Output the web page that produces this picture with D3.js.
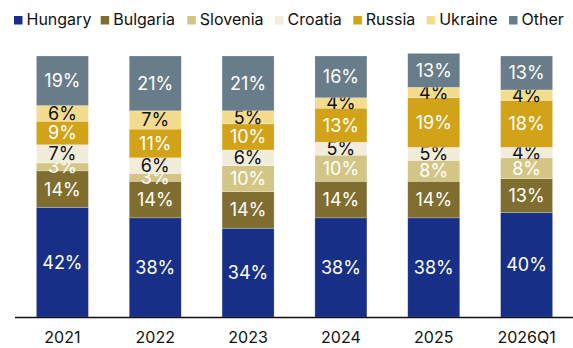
<!DOCTYPE html>
<html>
<head>
<meta charset="utf-8">
<script src="https://cdn.jsdelivr.net/npm/d3@7"></script>
<style>
  html, body { margin: 0; padding: 0; background: #fff; }
  svg { display: block; font-family: Inter, "Noto Sans", sans-serif; }
</style>
</head>
<body>
<svg id="chart" width="573" height="348"></svg>
<script>
// Periods along the x axis
const periods = ["2021", "2022", "2023", "2024", "2025", "2026Q1"];

// Share of each origin, in percent, stacked bottom to top
const hungary  = [42, 38, 34, 38, 38, 40];
const bulgaria = [14, 14, 14, 14, 14, 13];
const slovenia = [3, 3, 10, 10, 8, 8];
const croatia  = [7, 6, 6, 5, 5, 4];
const russia   = [9, 11, 10, 13, 19, 18];
const ukraine  = [6, 7, 5, 4, 4, 4];
const other    = [19, 21, 21, 16, 13, 13];

const seriesNames = ["Hungary", "Bulgaria", "Slovenia", "Croatia", "Russia", "Ukraine", "Other"];
const seriesValues = [hungary, bulgaria, slovenia, croatia, russia, ukraine, other];

const colors = ["#182f87", "#7f6e2f", "#d3c586", "#f2ecdb", "#d2a318", "#f4dc8e", "#687c89"];
const labelColors = ["#fff", "#fff", "#fff", "#111", "#fff", "#111", "#fff"];

const rows = periods.map((p, i) => {
  const r = { period: p };
  seriesNames.forEach((s, k) => { r[s] = seriesValues[k][i]; });
  return r;
});

const svg = d3.select("#chart");
const margin = { left: 16, right: 0, top: 56, bottom: 31 };
const W = 573, H = 348;

const x = d3.scaleBand()
  .domain(periods)
  .range([margin.left, W - margin.right])
  .paddingInner(0.44)
  .paddingOuter(0.22);

const y = d3.scaleLinear()
  .domain([0, 100])
  .range([H - margin.bottom, margin.top]);

const stacked = d3.stack().keys(seriesNames)(rows);

const layers = svg.append("g").selectAll("g")
  .data(stacked)
  .join("g")
  .attr("fill", (d, i) => colors[i]);

layers.selectAll("rect")
  .data(d => d)
  .join("rect")
  .attr("x", d => x(d.data.period))
  .attr("width", x.bandwidth())
  .attr("y", d => y(d[1]))
  .attr("height", d => y(d[0]) - y(d[1]))
  .attr("stroke", "rgba(255,255,255,0.35)")
  .attr("stroke-width", 0.6);

// Value labels centred in each segment
layers.selectAll("text")
  .data((d, i) => d.map(v => ({ v, i, key: d.key })))
  .join("text")
  .attr("x", d => x(d.v.data.period) + x.bandwidth() / 2)
  .attr("y", d => (y(d.v[0]) + y(d.v[1])) / 2)
  .attr("dy", "0.36em")
  .attr("text-anchor", "middle")
  .attr("font-size", 18)
  .attr("fill", d => labelColors[d.i])
  .text(d => d.v.data[d.key] + "%");

// Category axis
const xAxis = svg.append("g")
  .attr("transform", `translate(0,${H - margin.bottom})`)
  .call(d3.axisBottom(x).tickSize(0).tickPadding(15));
xAxis.select(".domain")
  .attr("d", `M15,0.5H${W}`)
  .attr("stroke", "#111")
  .attr("stroke-width", 1.5);
xAxis.selectAll("text")
  .attr("font-size", 16)
  .attr("font-family", "Inter, 'Noto Sans', sans-serif")
  .attr("fill", "#111");

// Legend
const legendX = [14, 100.7, 187.3, 275, 353.3, 426.7, 509];
const legend = svg.append("g").selectAll("g")
  .data(seriesNames)
  .join("g")
  .attr("transform", (d, i) => `translate(${legendX[i]},0)`);
legend.append("rect")
  .attr("x", 0).attr("y", 16)
  .attr("width", 8.5).attr("height", 8.5)
  .attr("fill", (d, i) => colors[i]);
legend.append("text")
  .attr("x", 12.5).attr("y", 24.5)
  .attr("font-size", 16)
  .attr("fill", "#111")
  .text(d => d);
</script>
</body>
</html>
